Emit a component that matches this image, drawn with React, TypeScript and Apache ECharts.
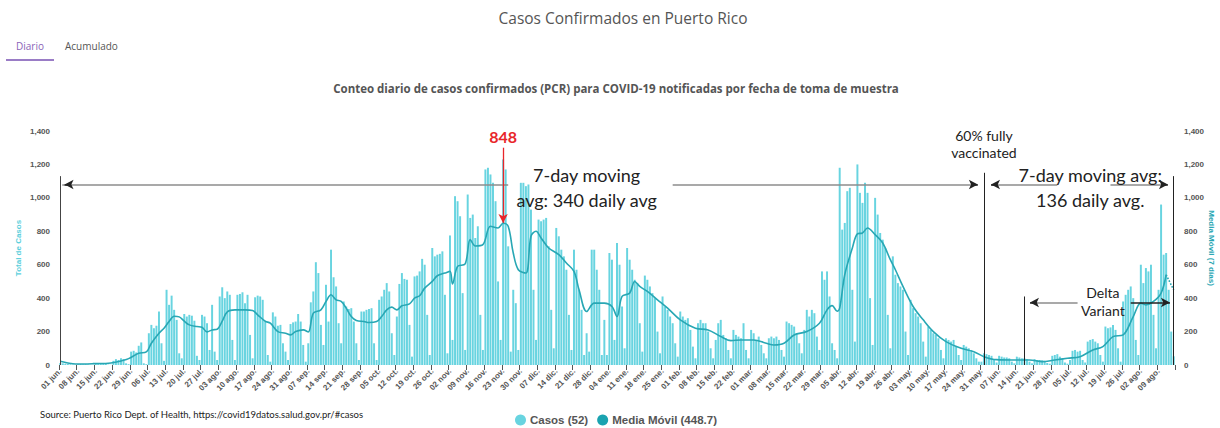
import React, { useEffect, useRef } from 'react';
import * as echarts from 'echarts';

// ---------- DATA ----------
const INICIO = '2020-06-01';
const MESES = ['ene.', 'feb.', 'mar.', 'abr.', 'may.', 'jun.', 'jul.', 'ago.', 'sep.', 'oct.', 'nov.', 'dic.'];
const Y_TICKS = [0, 200, 400, 600, 800, 1000, 1200, 1400];

// Casos diarios, semanas lunes–domingo
const casosVerano2020 = [ // 1 jun – 30 ago 2020
  [12, 10, 8, 6, 4, 2, 1],
  [5, 6, 4, 5, 3, 1, 1],
  [6, 8, 7, 9, 6, 2, 1],
  [25, 35, 30, 40, 35, 10, 5],
  [80, 85, 75, 115, 135, 10, 5],
  [190, 240, 220, 235, 320, 130, 25],
  [450, 360, 415, 330, 270, 70, 40],
  [305, 290, 300, 295, 265, 55, 30],
  [300, 290, 250, 90, 360, 80, 30],
  [410, 465, 400, 440, 420, 150, 30],
  [420, 425, 435, 370, 420, 180, 40],
  [405, 415, 410, 390, 260, 60, 20],
  [315, 290, 235, 240, 130, 80, 30],
];
const casosOtono2020 = [ // 31 ago – 29 nov 2020
  [245, 255, 260, 305, 260, 120, 20],
  [130, 375, 440, 615, 550, 240, 120],
  [480, 260, 690, 525, 470, 250, 130],
  [380, 350, 335, 340, 260, 130, 30],
  [320, 320, 330, 335, 340, 130, 30],
  [390, 410, 450, 490, 440, 190, 60],
  [290, 485, 550, 515, 510, 240, 50],
  [530, 535, 560, 635, 600, 300, 60],
  [700, 650, 660, 665, 680, 420, 70],
  [775, 150, 1010, 980, 890, 430, 90],
  [1020, 880, 900, 760, 830, 300, 90],
  [1170, 1180, 1140, 1090, 980, 500, 150],
  [1230, 1170, 710, 80, 450, 370, 90],
];
const casosInvierno2021 = [ // 30 nov 2020 – 28 feb 2021
  [1090, 1090, 1070, 1080, 930, 450, 150],
  [870, 860, 870, 880, 710, 330, 100],
  [820, 770, 690, 650, 570, 300, 90],
  [690, 570, 450, 330, 60, 190, 80],
  [690, 690, 570, 450, 60, 270, 60],
  [670, 630, 150, 730, 600, 350, 100],
  [700, 630, 570, 510, 490, 250, 80],
  [535, 510, 470, 430, 400, 200, 70],
  [410, 350, 330, 290, 250, 130, 50],
  [320, 290, 270, 280, 210, 110, 40],
  [250, 270, 250, 250, 200, 100, 40],
  [150, 250, 270, 180, 160, 90, 40],
  [210, 180, 170, 160, 250, 90, 40],
];
const casosPrimavera2021 = [ // 1 mar – 30 may 2021
  [210, 190, 150, 170, 120, 70, 40],
  [160, 170, 160, 170, 150, 90, 50],
  [260, 250, 240, 230, 190, 130, 70],
  [210, 330, 290, 330, 310, 170, 90],
  [560, 510, 560, 410, 130, 90, 40],
  [1180, 810, 850, 1040, 1060, 450, 140],
  [1200, 1030, 970, 1090, 1030, 400, 120],
  [1000, 900, 790, 750, 700, 300, 100],
  [650, 540, 490, 470, 450, 200, 60],
  [390, 340, 310, 290, 250, 140, 50],
  [230, 210, 190, 180, 160, 90, 40],
  [160, 150, 140, 150, 110, 60, 30],
  [120, 110, 100, 90, 70, 40, 20],
];
const casosVerano2021 = [ // 31 may – 15 ago 2021
  [20, 70, 65, 60, 55, 30, 15],
  [55, 50, 45, 45, 40, 20, 10],
  [50, 45, 40, 40, 35, 20, 10],
  [35, 30, 30, 28, 25, 12, 8],
  [55, 60, 65, 50, 40, 15, 8],
  [30, 85, 90, 80, 85, 30, 15],
  [140, 150, 155, 140, 130, 60, 20],
  [230, 220, 225, 240, 210, 100, 20],
  [380, 420, 450, 470, 400, 150, 60],
  [600, 490, 580, 560, 600, 300, 100],
  [450, 960, 660, 670, 450, 200, 52],
];

// Media móvil (7 días), lecturas del gráfico
const mm2020Fechas = [
  '2020-06-01', '2020-06-04', '2020-06-07', '2020-06-14', '2020-06-21', '2020-06-26', '2020-06-28',
  '2020-07-02', '2020-07-05', '2020-07-07', '2020-07-10', '2020-07-12', '2020-07-14', '2020-07-16',
  '2020-07-18', '2020-07-20', '2020-07-22', '2020-07-25', '2020-07-27', '2020-07-29', '2020-07-31',
  '2020-08-02', '2020-08-04', '2020-08-06', '2020-08-09', '2020-08-13', '2020-08-16', '2020-08-18',
  '2020-08-21', '2020-08-23', '2020-08-26', '2020-08-29', '2020-08-31', '2020-09-02', '2020-09-05',
  '2020-09-07', '2020-09-09', '2020-09-12', '2020-09-14', '2020-09-16', '2020-09-18', '2020-09-20',
  '2020-09-22', '2020-09-24', '2020-09-26', '2020-09-29', '2020-10-01', '2020-10-04', '2020-10-06',
  '2020-10-08', '2020-10-10', '2020-10-12', '2020-10-14', '2020-10-17', '2020-10-19', '2020-10-21',
  '2020-10-23', '2020-10-26', '2020-10-28', '2020-10-31', '2020-11-02', '2020-11-03', '2020-11-05',
  '2020-11-08', '2020-11-10', '2020-11-12', '2020-11-15', '2020-11-18', '2020-11-21', '2020-11-23',
  '2020-11-25', '2020-11-27', '2020-11-29', '2020-12-02', '2020-12-04', '2020-12-06', '2020-12-08',
  '2020-12-11', '2020-12-15', '2020-12-18', '2020-12-21', '2020-12-23', '2020-12-26', '2020-12-29',
];
const mm2020Valores = [
  22, 12, 6, 8, 12, 28, 38,
  70, 78, 130, 190, 220, 260, 292,
  288, 262, 240, 230, 226, 198, 210,
  214, 262, 318, 330, 330, 326, 300,
  262, 250, 200, 190, 180, 200, 210,
  198, 310, 330, 380, 420, 390, 380,
  340, 290, 266, 260, 254, 260, 290,
  330, 346, 330, 354, 366, 400, 414,
  460, 500, 534, 550, 560, 485, 590,
  605, 750, 712, 720, 830, 820, 848,
  830, 670, 570, 550, 770, 800, 760,
  700, 660, 610, 560, 450, 320, 370,
];
const mm2021Fechas = [
  '2021-01-02', '2021-01-05', '2021-01-07', '2021-01-09', '2021-01-12', '2021-01-14', '2021-01-16',
  '2021-01-19', '2021-01-23', '2021-01-27', '2021-02-01', '2021-02-07', '2021-02-12', '2021-02-17',
  '2021-02-21', '2021-02-25', '2021-03-02', '2021-03-07', '2021-03-10', '2021-03-14', '2021-03-18',
  '2021-03-23', '2021-03-28', '2021-03-31', '2021-04-02', '2021-04-04', '2021-04-05', '2021-04-07',
  '2021-04-10', '2021-04-12', '2021-04-14', '2021-04-16', '2021-04-19', '2021-04-22', '2021-04-25',
  '2021-04-27', '2021-04-30', '2021-05-04', '2021-05-08', '2021-05-12', '2021-05-17', '2021-05-23',
  '2021-05-28', '2021-06-01', '2021-06-06', '2021-06-12', '2021-06-19', '2021-06-24', '2021-06-29',
  '2021-07-04', '2021-07-09', '2021-07-14', '2021-07-18', '2021-07-22', '2021-07-26', '2021-07-30',
  '2021-08-02', '2021-08-04', '2021-08-07', '2021-08-10', '2021-08-12',
];
const mm2021Valores = [
  370, 350, 290, 410, 430, 500, 470,
  440, 390, 340, 270, 220, 210, 170,
  146, 150, 150, 130, 120, 130, 180,
  200, 250, 330, 355, 322, 340, 540,
  700, 785, 790, 820, 780, 730, 630,
  570, 470, 350, 270, 200, 140, 100,
  80, 50, 32, 30, 30, 20, 30,
  40, 50, 90, 110, 170, 180, 290,
  370, 360, 380, 430, 540,
];
// tramo final incompleto (punteado)
const mmFinalFechas = ['2021-08-12', '2021-08-15'];
const mmFinalValores = [540, 448.7];

const LEYENDA_CASOS = 'Casos (52)';
const LEYENDA_MM = 'Media Móvil (448.7)';

// ---------- HELPERS ----------
const DIA = 86400000;
const t0 = new Date(INICIO + 'T00:00:00Z').getTime();
const idx = (s: string) => Math.round((new Date(s + 'T00:00:00Z').getTime() - t0) / DIA);
const pad = (n: number) => (n < 10 ? '0' + n : '' + n);

const casos: number[] = [
  ...casosVerano2020, ...casosOtono2020, ...casosInvierno2021, ...casosPrimavera2021, ...casosVerano2021,
].flat();
const N = casos.length;
const categorias: string[] = casos.map((_, i) => {
  const d = new Date(t0 + i * DIA);
  return pad(d.getUTCDate()) + ' ' + MESES[d.getUTCMonth()];
});
const mmValores = [...mm2020Valores, ...mm2021Valores];
const mmData = [...mm2020Fechas, ...mm2021Fechas].map((f, i) => [idx(f), mmValores[i]]);
const mmFinal = mmFinalFechas.map((f, i) => [idx(f), mmFinalValores[i]]);

const GRIS = '#8c8c8c';
const NEGRO = '#222';
const linea = (x1: number, y1: number, x2: number, y2: number, color: string, width = 1) => [
  { coord: [x1, y1], symbol: 'none', lineStyle: { color, width, type: 'solid' } },
  { coord: [x2, y2], symbol: 'none' },
];
const flecha = (x1: number, y: number, x2: number, color = NEGRO) => [
  { coord: [x1, y], symbol: 'none', lineStyle: { color, width: 1.5, type: 'solid' } },
  { coord: [x2, y], symbol: 'arrow', symbolSize: [7, 9] },
];
const texto = (x: number, y: number, t: string, size: number, lh: number, extra: any = {}) => ({
  coord: [x, y],
  symbol: 'rect',
  symbolSize: 1,
  itemStyle: { color: 'rgba(0,0,0,0)' },
  label: {
    show: true, position: 'inside', formatter: t, fontSize: size, lineHeight: lh,
    fontFamily: 'Lato', color: NEGRO, align: 'center', verticalAlign: 'middle', ...extra,
  },
});

export default function App() {
  const ref = useRef<HTMLDivElement>(null);
  useEffect(() => {
    const chart = echarts.init(ref.current!, null, { renderer: 'svg' });
    const yAxisBase = {
      type: 'value', min: 0, max: 1400, interval: 200,
      nameLocation: 'middle', nameMoveOverlap: false,
      splitLine: { show: false }, axisLine: { show: false }, axisTick: { show: false },
      axisLabel: {
        fontSize: 8, fontWeight: 'bold', color: '#555', margin: 9,
        formatter: (v: number) => (Y_TICKS.includes(v) ? v.toLocaleString('en-US') : ''),
      },
    };
    const option: any = {
      animation: false,
      backgroundColor: '#fff',
      textStyle: { fontFamily: 'Liberation Sans' },
      grid: { left: 59, right: 45, top: 131, bottom: 63, containLabel: false, outerBoundsMode: 'none' },
      legend: {
        data: [LEYENDA_CASOS, LEYENDA_MM],
        left: 515, top: 414, padding: 0, icon: 'circle', itemWidth: 11, itemHeight: 11, itemGap: 9,
        textStyle: { fontSize: 11.5, fontWeight: 'bold', color: '#555', fontFamily: 'Liberation Sans', padding: [0, 0, 0, -1] },
        selectedMode: false,
      },
      xAxis: [
        {
          type: 'category', data: categorias, boundaryGap: true,
          axisLine: { show: false },
          axisTick: { show: true, interval: 6, length: 5, lineStyle: { color: '#555' } },
          axisLabel: { interval: 6, rotate: 45, fontSize: 8, fontWeight: 'bold', color: '#555', margin: 5 },
        },
        { type: 'value', min: -0.5, max: N - 0.5, show: false },
      ],
      yAxis: [
        {
          ...yAxisBase, position: 'left', name: 'Total de Casos', nameGap: 37, nameRotate: 90,
          nameTextStyle: { color: '#5ccfdc', fontWeight: 'bold', fontSize: 8 },
        },
        {
          ...yAxisBase, position: 'right', name: 'Media Móvil (7 días)', nameGap: 32, nameRotate: -90,
          nameTextStyle: { color: '#27a6b3', fontWeight: 'bold', fontSize: 8 },
        },
      ],
      series: [
        {
          name: LEYENDA_CASOS, type: 'bar', data: casos, xAxisIndex: 0, yAxisIndex: 0,
          barCategoryGap: '22%', itemStyle: { color: '#68d4e0' }, silent: true,
        },
        {
          name: LEYENDA_MM, type: 'line', data: mmData, xAxisIndex: 1, yAxisIndex: 1,
          smooth: 0.35, showSymbol: false, silent: true,
          lineStyle: { color: '#28a7b4', width: 1.6 }, itemStyle: { color: '#1aa3b0' },
          z: 3,
          markLine: {
            silent: true, label: { show: false }, animation: false,
            data: [
              linea(0, 0, 0, 1130, '#444'),
              linea(440, 0, 440, 1130, NEGRO),
              linea(365, 0, 365, 1150, NEGRO),
              linea(381, 0, 381, 410, NEGRO),
              linea(0.8, 1080, 177, 1080, GRIS, 1.5),
              linea(242, 1080, 362, 1080, GRIS, 1.5),
              linea(368, 1080, 394, 1080, GRIS, 1.5),
              linea(415, 1080, 437, 1080, GRIS, 1.5),
              linea(384, 374, 402, 374, GRIS, 1.5),
              flecha(4, 1080, 1.7),
              flecha(360, 1080, 362.6),
              flecha(370, 1080, 367.8),
              flecha(435, 1080, 437.7),
              flecha(386, 374, 383.2),
              flecha(423, 374, 438.5),
              [
                {
                  coord: [175, 1300], symbol: 'none',
                  lineStyle: { color: '#e8262a', width: 1.3, type: 'solid' },
                  label: {
                    show: true, position: 'start', formatter: '848', color: '#e8262a',
                    fontSize: 16, fontWeight: 'bold', fontFamily: 'Lato', distance: 3,
                  },
                },
                { coord: [175, 850], symbol: 'arrow', symbolSize: [7, 9] },
              ],
            ],
          },
          markPoint: {
            silent: true, animation: false,
            data: [
              texto(208, 1062, '7-day moving\navg: 340 daily avg', 18, 25),
              texto(365, 1320, '60% fully\nvaccinated', 14, 17),
              texto(407, 1062, '7-day moving avg:\n136 daily avg.', 18, 25),
              texto(412, 378, 'Delta\nVariant', 14, 18),
            ],
          },
        },
        {
          name: 'mmFinal', type: 'line', data: mmFinal, xAxisIndex: 1, yAxisIndex: 1,
          showSymbol: false, silent: true,
          lineStyle: { color: '#28a7b4', width: 1.6, type: 'dotted' },
        },
      ],
      graphic: [
        {
          type: 'text', x: 623, y: 18,
          style: { text: 'Casos Confirmados en Puerto Rico', fontSize: 15.5, fontFamily: 'Open Sans', fill: '#555', align: 'center', verticalAlign: 'middle' },
        },
        {
          type: 'text', x: 16, y: 46,
          style: { text: 'Diario', fontSize: 10, fontFamily: 'Open Sans', fill: '#8a63b8', align: 'left', verticalAlign: 'middle' },
        },
        {
          type: 'text', x: 65, y: 46,
          style: { text: 'Acumulado', fontSize: 10, fontFamily: 'Open Sans', fill: '#555', align: 'left', verticalAlign: 'middle' },
        },
        { type: 'rect', shape: { x: 6, y: 59, width: 48, height: 2 }, style: { fill: '#9a7cc6' } },
        {
          type: 'text', x: 616, y: 88,
          style: {
            text: 'Conteo diario de casos confirmados (PCR) para COVID-19 notificadas por fecha de toma de muestra',
            fontSize: 11.5, fontWeight: 'bold', fontFamily: 'Open Sans', fill: '#555', align: 'center', verticalAlign: 'middle',
          },
        },
        {
          type: 'text', x: 40, y: 414,
          style: {
            text: 'Source: Puerto Rico Dept. of Health, https://covid19datos.salud.gov.pr/#casos',
            fontSize: 9.5, fontFamily: 'Lato', fill: '#222', align: 'left', verticalAlign: 'middle',
          },
        },
      ],
    };
    chart.setOption(option);
    return () => chart.dispose();
  }, []);
  return (
    <div
      ref={ref}
      style={{ position: 'fixed', left: 0, top: 0, width: 1220, height: 428, background: '#fff' }}
    />
  );
}
